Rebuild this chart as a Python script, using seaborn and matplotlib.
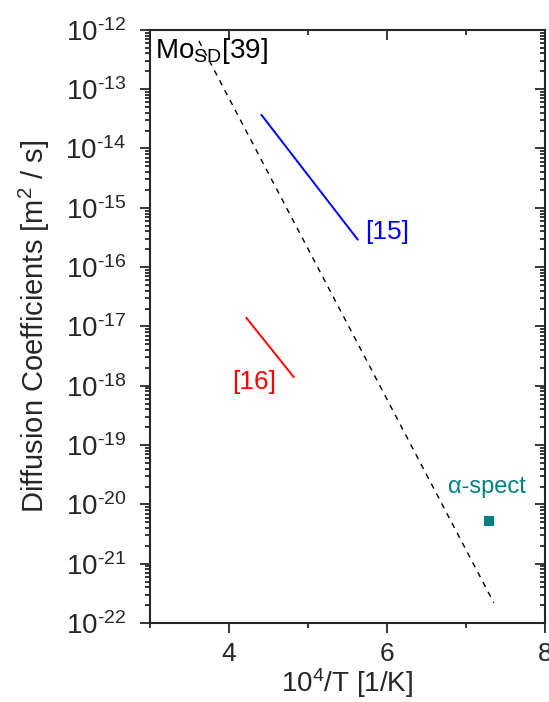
import numpy as np
import pandas as pd
import seaborn as sns
import matplotlib.pyplot as plt
from matplotlib.ticker import LogLocator, FixedLocator, FuncFormatter, NullFormatter

# data
mo_x = [3.62, 7.35]
mo_d = [6.5e-13, 2.2e-22]
ref15_x = [4.41, 5.63]
ref15_d = [3.7e-14, 2.9e-16]
ref16_x = [4.22, 4.82]
ref16_d = [1.4e-17, 1.4e-18]
alpha_x = [7.29]
alpha_d = [5.2e-21]

x_major = [4, 6, 8]
x_minor = [3, 5, 7]

sns.set_style('ticks')
plt.rcParams['font.family'] = ['Liberation Sans', 'DejaVu Sans']
plt.rcParams['mathtext.fontset'] = 'custom'
plt.rcParams['mathtext.rm'] = 'Liberation Sans'
plt.rcParams['mathtext.it'] = 'Liberation Sans:italic'

fig = plt.figure(figsize=(5.49, 7.02), dpi=100)
rect = [0.273, 0.1125, 0.72, 0.845]
ax = fig.add_axes(rect)

sns.lineplot(x=mo_x, y=mo_d, ax=ax, color='black', lw=1, linestyle=(0, (4, 4)))
sns.lineplot(x=ref15_x, y=ref15_d, ax=ax, color='blue', lw=1.4)
sns.lineplot(x=ref16_x, y=ref16_d, ax=ax, color='red', lw=1.4)
sns.scatterplot(x=alpha_x, y=alpha_d, ax=ax, color='#008080', marker='s', s=55, edgecolor='none')

ax.set_yscale('log')
ax.set_xlim(3, 8)
ax.set_ylim(1e-22, 1e-12)

ylog_fmt = FuncFormatter(lambda v, p: '$\\mathregular{10^{\u2010%d}}$' % abs(round(np.log10(v))))

ax.xaxis.set_major_locator(FixedLocator(x_major))
ax.xaxis.set_minor_locator(FixedLocator(x_minor))
ax.yaxis.set_major_locator(LogLocator(base=10, numticks=20))
ax.yaxis.set_minor_locator(LogLocator(base=10, subs=np.arange(2, 10), numticks=20))
ax.yaxis.set_minor_formatter(NullFormatter())
ax.yaxis.set_major_formatter(ylog_fmt)

# inward ticks on the top and right
ax.tick_params(which='both', direction='in', width=1.3, top=True, right=True, left=False, bottom=False)
ax.tick_params(which='major', length=7)
ax.tick_params(which='minor', length=3.5)
ax.tick_params(axis='y', labelsize=20, pad=17)
ax.tick_params(axis='x', labelsize=19, pad=14)
for s in ax.spines.values():
    s.set_linewidth(1.5)

# outward ticks on the bottom and left from an overlay axes
ov = fig.add_axes(rect, sharex=ax, sharey=ax)
ov.patch.set_visible(False)
for s in ov.spines.values():
    s.set_visible(False)
ov.tick_params(which='both', direction='out', width=1.3, top=False, right=False, left=True, bottom=True,
               labelleft=False, labelbottom=False)
ov.tick_params(which='major', length=7)
ov.tick_params(which='minor', length=3.5)

ax.set_xlabel(r'$\mathregular{10^4}$/T [1/K]', fontsize=20, labelpad=0)
ax.set_ylabel(r'Diffusion Coefficients [m$\mathregular{^2}$ / s]', fontsize=21, labelpad=10)

ax.text(3.06, 3.4e-13, r'Mo$\mathregular{_{SD}}$[39]', fontsize=20, color='black', va='baseline')
ax.text(5.72, 3.9e-16, '[15]', fontsize=19, color='blue', va='center')
ax.text(4.04, 1.15e-18, '[16]', fontsize=19, color='red', va='center')
ax.text(7.26, 1.55e-20, '\u03b1-spect', fontsize=17, color='#008080', va='baseline', ha='center')

fig.canvas.draw()
fig.savefig('out.png', dpi=100)
